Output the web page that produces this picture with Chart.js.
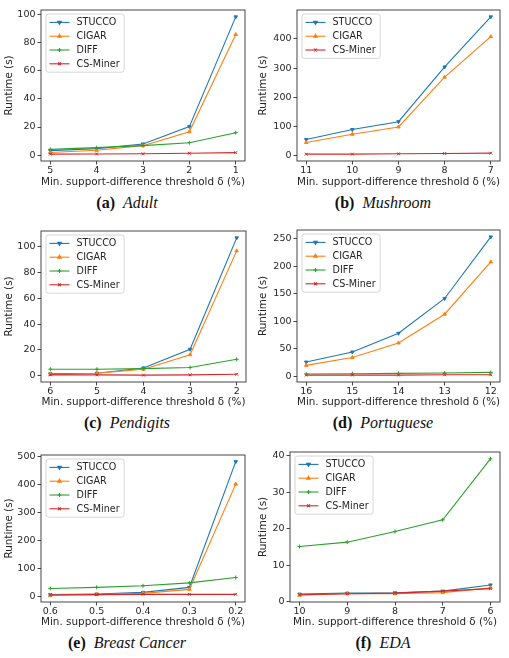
<!DOCTYPE html>
<html>
<head>
<meta charset="utf-8">
<script src="https://cdn.jsdelivr.net/npm/chart.js"></script>
<style>
  html, body { margin: 0; padding: 0; background: #fff; }
  body { width: 509px; height: 658px; position: relative; overflow: hidden; }
  canvas { position: absolute; }
  .cap { position: absolute; width: 254px; text-align: center; font-family: "Liberation Serif", serif; font-size: 16px; line-height: 18px; color: #111; }
  .cap i { font-style: italic; }
</style>
</head>
<body>
<script>
// Runtime (s) por dataset.
const SERIES = ["STUCCO", "CIGAR", "DIFF", "CS-Miner"];

const adultX = ["5", "4", "3", "2", "1"];
const adultStucco = [3.3, 4.7, 8, 20.3, 98];
const adultCigar = [2, 3.5, 6.8, 16.7, 85.5];
const adultDiff = [4.2, 5.4, 6.8, 8.9, 16];
const adultCs = [0.8, 0.9, 1.1, 1.4, 1.9];
const adultTicks = [0, 20, 40, 60, 80, 100];

const mushX = ["11", "10", "9", "8", "7"];
const mushStucco = [54.7, 89, 116, 304, 476];
const mushCigar = [44.4, 73, 98, 269, 408];
const mushCs = [4.6, 4.6, 5.7, 6.8, 8];
const mushTicks = [0, 100, 200, 300, 400];

const pendX = ["6", "5", "4", "3", "2"];
const pendStucco = [1.3, 1.8, 5.9, 20.4, 107];
const pendCigar = [0.8, 1.8, 4.9, 16.2, 96.9];
const pendDiff = [4.9, 4.9, 5.4, 6.2, 12.6];
const pendCs = [0.5, 0.5, 0.3, 0.5, 1];
const pendTicks = [0, 20, 40, 60, 80, 100];

const portX = ["16", "15", "14", "13", "12"];
const portStucco = [25.6, 43.9, 78, 141.5, 253.7];
const portCigar = [19.5, 34, 60.4, 112.8, 208];
const portDiff = [3.7, 4.3, 4.9, 5.5, 6.7];
const portCs = [1.8, 1.8, 1.8, 2.4, 2.4];
const portTicks = [0, 50, 100, 150, 200, 250];

const breastX = ["0.6", "0.5", "0.4", "0.3", "0.2"];
const breastStucco = [5.9, 8.2, 14, 31.8, 480];
const breastCigar = [3.5, 5.9, 10.6, 24.7, 400];
const breastDiff = [28, 31.8, 37.6, 48, 67];
const breastCs = [4.7, 5.9, 7, 7, 7];
const breastTicks = [0, 100, 200, 300, 400, 500];

const edaX = ["10", "9", "8", "7", "6"];
const edaStucco = [2.1, 2.35, 2.45, 2.9, 4.6];
const edaCigar = [1.8, 2.2, 2.2, 2.5, 3.8];
const edaDiff = [15.1, 16.3, 19.2, 22.4, 39.1];
const edaCs = [1.9, 2.2, 2.35, 2.9, 3.6];
const edaTicks = [0, 10, 20, 30, 40];

// Estilo tipo matplotlib (tab10)
const STYLE = {
  "STUCCO":   { color: "#1f77b4", point: "triangle", rot: 180 },
  "CIGAR":    { color: "#ff7f0e", point: "triangle", rot: 0 },
  "DIFF":     { color: "#2ca02c", point: "cross", rot: 0 },
  "CS-Miner": { color: "#d62728", point: "crossRot", rot: 0 },
};
const FAMILY = '"DejaVu Sans", sans-serif';
const TICKFONT = { family: FAMILY, size: 9.5, lineHeight: 1.0 };
const TITLEFONT = { family: FAMILY, size: 10.4 };
const LEGSIZE = 9.6;
const INK = "#262626";
const XTITLE = "Min. support-difference threshold \u03b4 (%)";
const CW = 254, CH = 192;

// Paneles: caja del eje en coordenadas de página
const panels = [
  { x: 0,   y: 0,   box: [41, 10, 245, 161],   cats: adultX,  ticks: adultTicks,  cap: "(a)", name: "Adult",
    series: [["STUCCO", adultStucco], ["CIGAR", adultCigar], ["DIFF", adultDiff], ["CS-Miner", adultCs]] },
  { x: 254, y: 0,   box: [297, 10, 500, 161],  cats: mushX,   ticks: mushTicks,   cap: "(b)", name: "Mushroom",
    series: [["STUCCO", mushStucco], ["CIGAR", mushCigar], ["CS-Miner", mushCs]] },
  { x: 0,   y: 220, box: [41, 231, 246, 382],  cats: pendX,   ticks: pendTicks,   cap: "(c)", name: "Pendigits",
    series: [["STUCCO", pendStucco], ["CIGAR", pendCigar], ["DIFF", pendDiff], ["CS-Miner", pendCs]] },
  { x: 254, y: 220, box: [297, 230, 500, 382], cats: portX,   ticks: portTicks,   cap: "(d)", name: "Portuguese",
    series: [["STUCCO", portStucco], ["CIGAR", portCigar], ["DIFF", portDiff], ["CS-Miner", portCs]] },
  { x: 0,   y: 440, box: [41, 455, 245, 602],  cats: breastX, ticks: breastTicks, cap: "(e)", name: "Breast Cancer",
    series: [["STUCCO", breastStucco], ["CIGAR", breastCigar], ["DIFF", breastDiff], ["CS-Miner", breastCs]] },
  { x: 254, y: 440, box: [290, 452, 500, 602], cats: edaX,    ticks: edaTicks,    cap: "(f)", name: "EDA",
    series: [["STUCCO", edaStucco], ["CIGAR", edaCigar], ["DIFF", edaDiff], ["CS-Miner", edaCs]] },
];

// Marco completo + leyenda dentro del área (arriba a la izquierda)
const framePlugin = {
  id: "frameLegend",
  afterDraw(chart) {
    const { ctx, chartArea: a } = chart;
    ctx.save();
    ctx.strokeStyle = "#333"; ctx.lineWidth = 0.9;
    ctx.strokeRect(a.left, a.top, a.right - a.left, a.bottom - a.top);

    const ds = chart.data.datasets;
    ctx.font = `${LEGSIZE}px ${FAMILY}`;
    const tw = Math.max(...ds.map((d) => ctx.measureText(d.label).width));
    const x0 = a.left + 5, y0 = a.top + 4;
    const w = tw + 35, h = 16.8 + (ds.length - 1) * 13.8;
    ctx.beginPath();
    ctx.roundRect(x0, y0, w, h, 2.5);
    ctx.fillStyle = "rgba(255,255,255,0.8)"; ctx.fill();
    ctx.strokeStyle = "#cccccc"; ctx.lineWidth = 0.8; ctx.stroke();
    ds.forEach((d, i) => {
      const yy = y0 + 8.4 + i * 13.8;
      ctx.strokeStyle = d.borderColor; ctx.lineWidth = 1.1;
      ctx.beginPath(); ctx.moveTo(x0 + 3.5, yy); ctx.lineTo(x0 + 23.5, yy); ctx.stroke();
      if (Chart.helpers && Chart.helpers.drawPoint) {
        ctx.fillStyle = d.borderColor;
        Chart.helpers.drawPoint(ctx, { pointStyle: d.pointStyle, radius: 2, rotation: d.pointRotation, borderWidth: 1 }, x0 + 13.5, yy);
      }
      ctx.fillStyle = INK; ctx.textBaseline = "middle"; ctx.textAlign = "left";
      ctx.fillText(d.label, x0 + 30.5, yy + 0.5);
    });
    ctx.restore();
  },
};

panels.forEach((p) => {
  const cv = document.createElement("canvas");
  cv.width = CW; cv.height = CH;
  cv.style.left = p.x + "px"; cv.style.top = p.y + "px";
  document.body.appendChild(cv);

  const [bl, bt, br, bb] = p.box;
  const all = p.series.flatMap((s) => s[1]);
  const lo = Math.min(...all), hi = Math.max(...all), m = (hi - lo) * 0.05;
  const n = p.cats.length;

  const datasets = p.series.map(([name, vals], i) => ({
    label: name,
    data: vals.map((v, k) => ({ x: k, y: v })),
    borderColor: STYLE[name].color,
    backgroundColor: STYLE[name].color,
    borderWidth: 1.1,
    pointStyle: STYLE[name].point,
    pointRotation: STYLE[name].rot,
    pointRadius: 2,
    pointBorderWidth: 1,
    tension: 0,
    order: p.series.length - i,
  }));

  const grid = { drawOnChartArea: false, drawTicks: true, tickLength: 3.5, color: "#333", tickColor: "#333", tickWidth: 0.9 };

  new Chart(cv, {
    type: "line",
    data: { datasets },
    options: {
      responsive: false, animation: false, events: [],
      layout: { padding: { left: 0, top: bt - p.y, right: p.x + CW - br, bottom: 0 } },
      plugins: { legend: { display: false }, tooltip: { enabled: false } },
      scales: {
        x: {
          type: "linear", min: -0.2, max: n - 1 + 0.2,
          afterBuildTicks: (s) => { s.ticks = p.cats.map((_, i) => ({ value: i })); },
          afterFit: (s) => { s.height = p.y + CH - bb; },
          ticks: { callback: (v) => p.cats[v], font: TICKFONT, color: INK, padding: 1, maxRotation: 0, autoSkip: false },
          grid, border: { display: false },
          title: { display: true, text: XTITLE, font: TITLEFONT, color: INK, padding: { top: 0, bottom: 3.5 } },
        },
        y: {
          type: "linear", min: lo - m, max: hi + m,
          afterBuildTicks: (s) => { s.ticks = p.ticks.map((v) => ({ value: v })); },
          afterFit: (s) => { s.width = bl - p.x; },
          ticks: { font: TICKFONT, color: INK, padding: 2 },
          grid, border: { display: false },
          title: { display: true, text: "Runtime (s)", font: TITLEFONT, color: INK, padding: { top: 3.5, bottom: 0 } },
        },
      },
    },
    plugins: [framePlugin],
  });

  const cap = document.createElement("div");
  cap.className = "cap";
  cap.style.left = (p.x === 0 ? 0 : 256) + "px";
  cap.style.top = (p.y + 194) + "px";
  cap.innerHTML = `<b>${p.cap}</b>&nbsp; <i>${p.name}</i>`;
  document.body.appendChild(cap);
});
</script>
</body>
</html>
